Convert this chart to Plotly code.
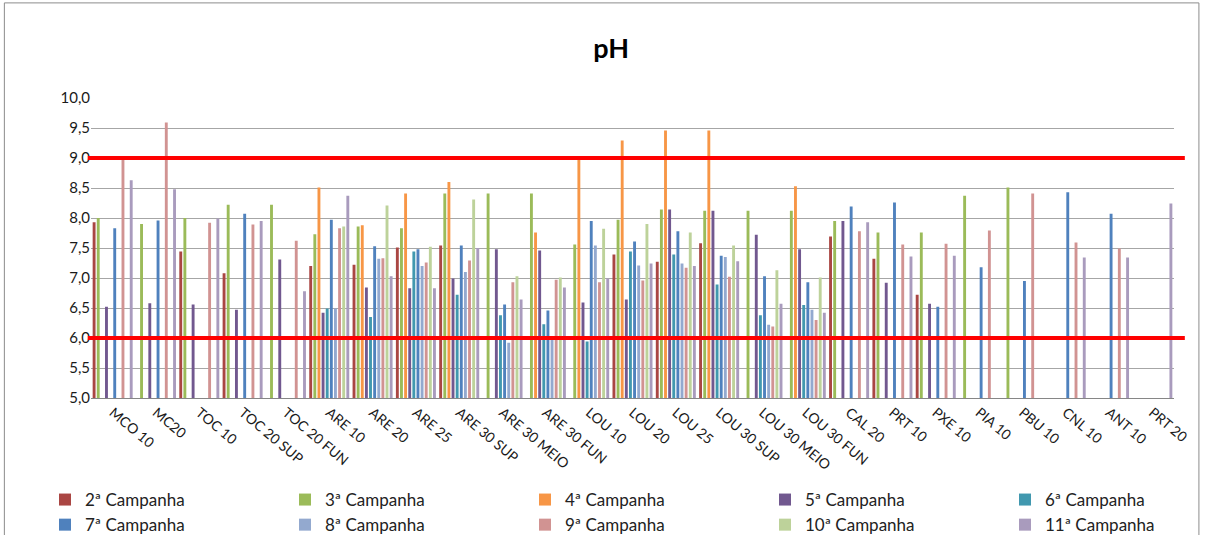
import plotly.graph_objects as go

# pontos de amostragem
pontos = ["MCO 10", "MC20", "TOC 10", "TOC 20 SUP", "TOC 20 FUN", "ARE 10", "ARE 20",
          "ARE 25", "ARE 30 SUP", "ARE 30 MEIO", "ARE 30 FUN", "LOU 10", "LOU 20",
          "LOU 25", "LOU 30 SUP", "LOU 30 MEIO", "LOU 30 FUN", "CAL 20", "PRT 10",
          "PXE 10", "PIA 10", "PBU 10", "CNL 10", "ANT 10", "PRT 20"]

# pH por campanha (None = sem medição)
camp_2 = [7.93, None, 7.44, 7.08, None, 7.20, 7.22, 7.51, 7.54, None, None, None, 7.39,
          7.27, 7.58, None, None, 7.69, 7.32, 6.72, None, None, None, None, None]
camp_3 = [8.00, 7.90, 8.00, 8.22, 8.22, 7.73, 7.86, 7.83, 8.41, 8.41, 8.41, 7.56, 7.97,
          8.14, 8.12, 8.12, 8.12, 7.95, 7.76, 7.76, 8.37, 8.51, None, None, None]
camp_4 = [None, None, None, None, None, 8.51, 7.88, 8.41, 8.60, None, 7.76, 9.03, 9.29,
          9.46, 9.46, None, 8.53, None, None, None, None, None, None, None, None]
camp_5 = [6.52, 6.58, 6.56, 6.47, 7.31, 6.42, 6.84, 6.83, 6.99, 7.48, 7.46, 6.59, 6.64,
          8.14, 8.12, 7.72, 7.48, 7.95, 6.92, 6.57, None, None, None, None, None]
camp_6 = [None, None, None, None, None, 6.49, 6.35, 7.44, 6.72, 6.38, 6.23, 5.94, 7.44,
          7.39, 6.89, 6.38, 6.55, None, None, None, None, None, None, None, None]
camp_7 = [7.83, 7.96, None, 8.07, None, 7.97, 7.53, 7.48, 7.54, 6.56, 6.46, 7.95, 7.61,
          7.78, 7.37, 7.03, 6.93, 8.19, 8.26, 6.52, 7.18, 6.95, 8.43, 8.07, None]
camp_8 = [None, None, None, None, None, 6.49, 7.32, 7.20, 7.10, 5.92, 5.97, 7.54, 7.21,
          7.24, 7.35, 6.22, 6.47, None, None, None, None, None, None, None, None]
camp_9 = [8.97, 9.59, 7.92, 7.89, 7.62, 7.83, 7.33, 7.26, 7.29, 6.93, 6.97, 6.93, 6.96,
          7.17, 7.02, 6.19, 6.30, 7.78, 7.56, 7.57, 7.79, 8.41, 7.59, 7.49, None]
camp_10 = [None, None, None, None, None, 7.86, 8.21, 7.52, 8.31, 7.03, 7.01, 7.82, 7.90,
           7.76, 7.54, 7.13, 7.01, None, None, None, None, None, None, None, None]
camp_11 = [8.63, 8.48, 7.99, 7.95, 6.78, 8.37, 7.03, 6.83, 7.50, 6.64, 6.84, 6.99, 7.24,
           7.20, 7.28, 6.57, 6.42, 7.93, 7.36, 7.37, None, None, 7.34, 7.34, 8.24]

nomes = ["2ª Campanha", "3ª Campanha", "4ª Campanha", "5ª Campanha", "6ª Campanha",
         "7ª Campanha", "8ª Campanha", "9ª Campanha", "10ª Campanha", "11ª Campanha"]
series = [camp_2, camp_3, camp_4, camp_5, camp_6, camp_7, camp_8, camp_9, camp_10, camp_11]
cores = ["#AA4643", "#9BBB59", "#F79646", "#71588F", "#4198AF",
         "#4F81BD", "#93A9CF", "#D19392", "#BDD29A", "#A99BBD"]

# limites de pH
limites = [6.0, 9.0]

# legenda em 5 colunas x 2 linhas
legendas = ["legend", "legend2", "legend3", "legend4", "legend5"]
col_px = [45, 285, 525, 765, 1005]

fig = go.Figure()
for i, (nome, vals, cor) in enumerate(zip(nomes, series, cores)):
    fig.add_trace(go.Bar(x=pontos, y=vals, name=nome, marker_color=cor,
                         marker_line_width=0, legend=legendas[i % 5]))

for lim in limites:
    fig.add_shape(type="line", xref="paper", yref="y", x0=-0.003, x1=1.01,
                  y0=lim, y1=lim, line=dict(color="#FF0000", width=4))

# moldura do gráfico
fig.add_shape(type="rect", xref="paper", yref="paper", x0=-0.080, x1=1.023,
              y0=-0.48, y1=1.317, line=dict(color="#8C8C8C", width=1), layer="below")

leg_cfg = {}
for nome_leg, px in zip(legendas, col_px):
    leg_cfg[nome_leg] = dict(orientation="v", x=(px - 91) / 1083, y=-0.28,
                             xanchor="left", yanchor="top", tracegroupgap=0,
                             font=dict(size=17, color="#222222"),
                             bgcolor="rgba(0,0,0,0)")

fig.update_layout(
    width=1208, height=535, autosize=False,
    margin=dict(l=91, r=34, t=98, b=137, autoexpand=False),
    paper_bgcolor="white", plot_bgcolor="white",
    separators=",.",
    font=dict(family="Lato, Liberation Sans, sans-serif", color="#000000"),
    title=dict(text="<b>pH</b>", x=0.506, xref="container", xanchor="center",
               y=0.91, yref="container", yanchor="middle",
               font=dict(size=27, color="#000000")),
    barmode="group", bargap=0.048, bargroupgap=0.3,
    xaxis=dict(tickangle=40, tickfont=dict(size=14, color="#1A1A1A"),
               showline=True, linecolor="#868686", ticks="", showgrid=False,
               automargin=False),
    yaxis=dict(range=[5, 10], dtick=0.5, tickformat=".1f",
               tickfont=dict(size=15, color="#1A1A1A"),
               showgrid=True, gridcolor="#A6A6A6", gridwidth=1,
               zeroline=False, showline=False, ticks="", automargin=False),
    **leg_cfg,
)

fig.write_html("out.html", config={"displayModeBar": False},
               post_script="document.body.style.margin='0px';")
